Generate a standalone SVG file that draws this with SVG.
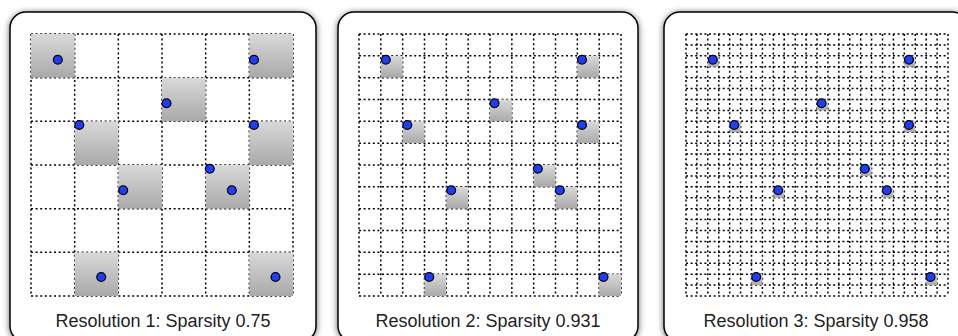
<svg xmlns="http://www.w3.org/2000/svg" width="958" height="336" viewBox="0 0 958 336">
<style>
.box{fill:#fff;stroke:#000;stroke-width:1.5;filter:url(#sh)}
.grid{fill:none;stroke:#000;stroke-width:1.5;stroke-dasharray:2 2.6}
.hit{fill:url(#gr);stroke:none}
.dot{fill:#1f3dff;stroke:#000;stroke-width:1.3}
.lbl{font-family:"Liberation Sans",Arial,sans-serif;font-size:18px;fill:#222;text-anchor:middle}
</style>
<defs>
<filter id="sh" x="-10%" y="-10%" width="120%" height="120%">
<feDropShadow dx="0" dy="1" stdDeviation="3" flood-color="#000" flood-opacity="0.6"/>
</filter>
<linearGradient id="gr" x1="0" y1="0" x2="0" y2="1">
<stop offset="0" stop-color="#d9d9d9"/>
<stop offset="1" stop-color="#a9a9a9"/>
</linearGradient>
<g id="dots">
<circle class="dot" cx="26.8" cy="25.7" r="4.4"/>
<circle class="dot" cx="223" cy="25.7" r="4.4"/>
<circle class="dot" cx="135.5" cy="69.3" r="4.4"/>
<circle class="dot" cx="48.3" cy="91" r="4.4"/>
<circle class="dot" cx="223" cy="91" r="4.4"/>
<circle class="dot" cx="92.2" cy="156.3" r="4.4"/>
<circle class="dot" cx="178.8" cy="134.7" r="4.4"/>
<circle class="dot" cx="200.8" cy="156.3" r="4.4"/>
<circle class="dot" cx="70.2" cy="243" r="4.4"/>
<circle class="dot" cx="244.5" cy="243" r="4.4"/>
</g>
</defs>

<g id="panel1">
<rect class="box" x="10" y="12" width="306" height="330" rx="16"/>
<g class="grid" transform="translate(31,34)">
<path d="M0 0H262M0 43.667H262M0 87.333H262M0 131H262M0 174.667H262M0 218.333H262M0 262H262"/>
<path d="M0 0V262M43.667 0V262M87.333 0V262M131 0V262M174.667 0V262M218.333 0V262M262 0V262"/>
</g>
<g class="hit">
<rect x="31" y="34" width="43.667" height="43.667"/>
<rect x="249.333" y="34" width="43.667" height="43.667"/>
<rect x="162" y="77.667" width="43.667" height="43.667"/>
<rect x="74.667" y="121.333" width="43.667" height="43.667"/>
<rect x="249.333" y="121.333" width="43.667" height="43.667"/>
<rect x="118.333" y="165" width="43.667" height="43.667"/>
<rect x="205.667" y="165" width="43.667" height="43.667"/>
<rect x="74.667" y="252.333" width="43.667" height="43.667"/>
<rect x="249.333" y="252.333" width="43.667" height="43.667"/>
</g>
<use href="#dots" x="31" y="34"/>
<text class="lbl" x="163" y="327">Resolution 1: Sparsity 0.75</text>
</g>

<g id="panel2">
<rect class="box" x="338" y="12" width="300" height="330" rx="16"/>
<g class="grid" transform="translate(359,34)">
<path d="M0 0H262M0 21.833H262M0 43.667H262M0 65.5H262M0 87.333H262M0 109.167H262M0 131H262M0 152.833H262M0 174.667H262M0 196.5H262M0 218.333H262M0 240.167H262M0 262H262"/>
<path d="M0 0V262M21.833 0V262M43.667 0V262M65.5 0V262M87.333 0V262M109.167 0V262M131 0V262M152.833 0V262M174.667 0V262M196.5 0V262M218.333 0V262M240.167 0V262M262 0V262"/>
</g>
<g class="hit">
<rect x="380.833" y="55.833" width="21.833" height="21.833"/>
<rect x="577.333" y="55.833" width="21.833" height="21.833"/>
<rect x="490" y="99.5" width="21.833" height="21.833"/>
<rect x="402.667" y="121.333" width="21.833" height="21.833"/>
<rect x="577.333" y="121.333" width="21.833" height="21.833"/>
<rect x="446.333" y="186.833" width="21.833" height="21.833"/>
<rect x="533.667" y="165" width="21.833" height="21.833"/>
<rect x="555.5" y="186.833" width="21.833" height="21.833"/>
<rect x="424.5" y="274.167" width="21.833" height="21.833"/>
<rect x="599.167" y="274.167" width="21.833" height="21.833"/>
</g>
<use href="#dots" x="359" y="34"/>
<text class="lbl" x="488" y="327">Resolution 2: Sparsity 0.931</text>
</g>

<g id="panel3">
<rect class="box" x="664" y="12" width="304" height="330" rx="16"/>
<g class="grid" transform="translate(686,34)">
<path d="M0 0H262M0 10.917H262M0 21.833H262M0 32.75H262M0 43.667H262M0 54.583H262M0 65.5H262M0 76.417H262M0 87.333H262M0 98.25H262M0 109.167H262M0 120.083H262M0 131H262M0 141.917H262M0 152.833H262M0 163.75H262M0 174.667H262M0 185.583H262M0 196.5H262M0 207.417H262M0 218.333H262M0 229.25H262M0 240.167H262M0 251.083H262M0 262H262"/>
<path d="M0 0V262M10.917 0V262M21.833 0V262M32.75 0V262M43.667 0V262M54.583 0V262M65.5 0V262M76.417 0V262M87.333 0V262M98.25 0V262M109.167 0V262M120.083 0V262M131 0V262M141.917 0V262M152.833 0V262M163.75 0V262M174.667 0V262M185.583 0V262M196.5 0V262M207.417 0V262M218.333 0V262M229.25 0V262M240.167 0V262M251.083 0V262M262 0V262"/>
</g>
<g class="hit">
<rect x="707.833" y="55.833" width="10.917" height="10.917"/>
<rect x="904.333" y="55.833" width="10.917" height="10.917"/>
<rect x="817" y="99.5" width="10.917" height="10.917"/>
<rect x="729.667" y="121.333" width="10.917" height="10.917"/>
<rect x="904.333" y="121.333" width="10.917" height="10.917"/>
<rect x="773.333" y="186.833" width="10.917" height="10.917"/>
<rect x="860.667" y="165" width="10.917" height="10.917"/>
<rect x="882.5" y="186.833" width="10.917" height="10.917"/>
<rect x="751.5" y="274.167" width="10.917" height="10.917"/>
<rect x="926.167" y="274.167" width="10.917" height="10.917"/>
</g>
<use href="#dots" x="686" y="34"/>
<text class="lbl" x="816" y="327">Resolution 3: Sparsity 0.958</text>
</g>
</svg>
